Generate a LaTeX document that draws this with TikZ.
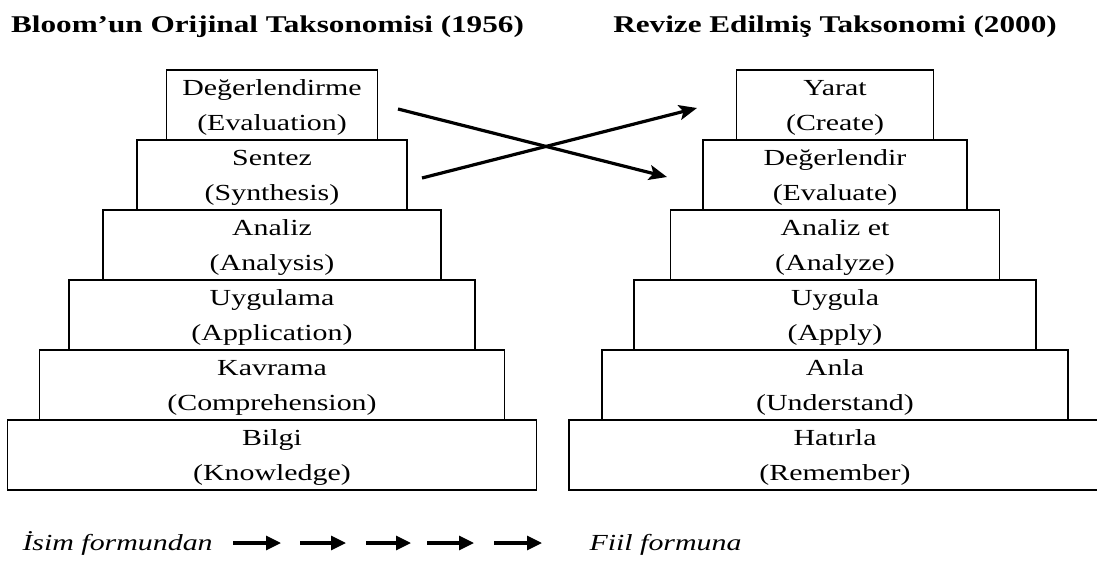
\documentclass[tikz,border=0pt]{standalone}
\usepackage{fontspec}
\setmainfont{Liberation Serif}[FakeStretch = 1.3]
\usetikzlibrary{positioning, arrows.meta}
\tikzset{>={Stealth[width=15pt,length=18pt,inset=4pt]}}
\tikzset{
  level/.style = {draw, line width = 1.3pt, minimum height = 70pt, inner sep = 0pt, outer sep = 0pt, align = center, text depth = 0pt, font = \fontsize{23}{35}\selectfont},
  heading/.style = {anchor = base, font = \fontsize{24}{28}\selectfont\bfseries},
  formtext/.style = {anchor = base west, font = \fontsize{23}{28}\selectfont\itshape},
  smallarrow/.style = {-{Triangle[width=14pt,length=15pt]}, line width = 3.2pt}
}

\begin{document}
\begin{tikzpicture}[x = 1pt, y = -1pt]
\useasboundingbox (0, 0) rectangle (1097, 565);

\node (title_old) [heading] at (267.5, 32) {Bloom’un Orijinal Taksonomisi (1956)};
\node (title_new) [heading] at (835, 32) {Revize Edilmiş Taksonomi (2000)};

% original taxonomy, from the bottom up
\node (bilgi) [level, minimum width = 529pt] at (272, 455) {Bilgi\\(Knowledge)};
\node (kavrama) [level, minimum width = 465pt, above = 0pt of bilgi] {Kavrama\\(Comprehension)};
\node (uygulama) [level, minimum width = 406pt, above = 0pt of kavrama] {Uygulama\\(Application)};
\node (analiz) [level, minimum width = 338pt, above = 0pt of uygulama] {Analiz\\(Analysis)};
\node (sentez) [level, minimum width = 270pt, above = 0pt of analiz] {Sentez\\(Synthesis)};
\node (degerlendirme) [level, minimum width = 211pt, above = 0pt of sentez] {Değerlendirme\\(Evaluation)};

% revised taxonomy
\node (hatirla) [level, minimum width = 532pt] at (835, 455) {Hatırla\\(Remember)};
\node (anla) [level, minimum width = 466pt, above = 0pt of hatirla] {Anla\\(Understand)};
\node (uygula) [level, minimum width = 402pt, above = 0pt of anla] {Uygula\\(Apply)};
\node (analizet) [level, minimum width = 329pt, above = 0pt of uygula] {Analiz et\\(Analyze)};
\node (degerlendir) [level, minimum width = 264pt, above = 0pt of analizet] {Değerlendir\\(Evaluate)};
\node (yarat) [level, minimum width = 197pt, above = 0pt of degerlendir] {Yarat\\(Create)};

% the two crossing arrows
\coordinate (eval_out) at (398, 109);
\coordinate (eval_in) at (667, 177);
\coordinate (synth_out) at (422, 178);
\coordinate (create_in) at (697, 108);
\draw[->, line width = 3.2pt] (eval_out) -- (eval_in);
\draw[->, line width = 3.2pt] (synth_out) -- (create_in);

% noun form to verb form
\node (isim) [formtext] at (19, 550) {İsim formundan};
\node (fiil) [formtext] at (586, 550) {Fiil formuna};

\coordinate (a1) at (233, 543);
\coordinate (b1) at (281, 543);
\coordinate (a2) at (300, 543);
\coordinate (b2) at (346, 543);
\coordinate (a3) at (366, 543);
\coordinate (b3) at (411, 543);
\coordinate (a4) at (427, 543);
\coordinate (b4) at (474, 543);
\coordinate (a5) at (494, 543);
\coordinate (b5) at (542, 543);
\draw[smallarrow] (a1) -- (b1);
\draw[smallarrow] (a2) -- (b2);
\draw[smallarrow] (a3) -- (b3);
\draw[smallarrow] (a4) -- (b4);
\draw[smallarrow] (a5) -- (b5);

\end{tikzpicture}
\end{document}
